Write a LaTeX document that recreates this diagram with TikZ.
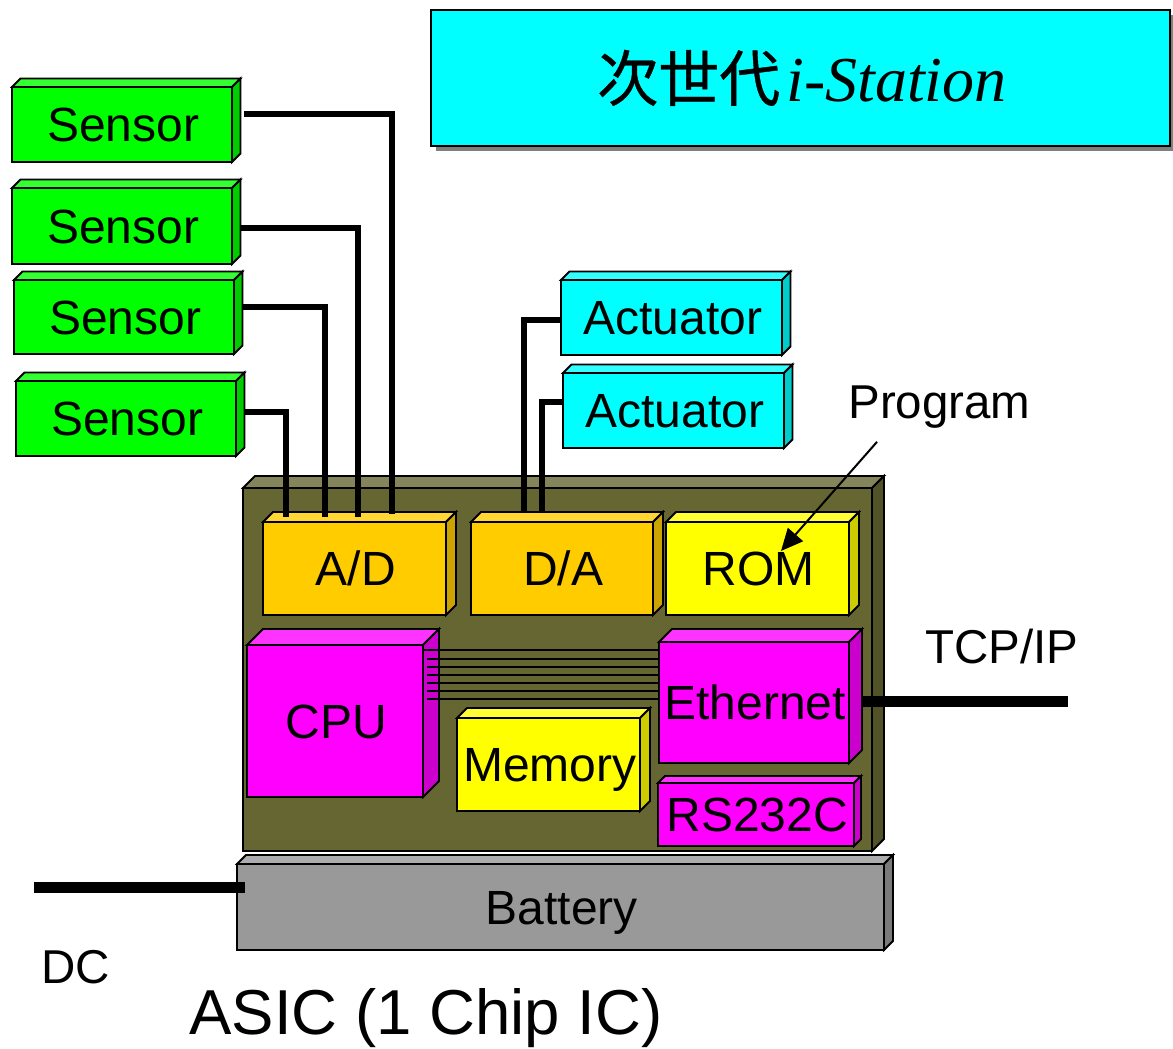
\documentclass[tikz,border=0pt]{standalone}
\usepackage{fontspec}
\setmainfont{Liberation Sans}
\newfontfamily\cjkfont[FakeBold=0.6]{Noto Sans CJK JP}
\newfontfamily\romanfont{Liberation Serif}
\usepackage{tikz}
\usetikzlibrary{arrows.meta,shadows}

\definecolor{baseolive}{HTML}{666633}
\definecolor{chiporange}{HTML}{FFCC00}
\definecolor{batterygray}{HTML}{999999}
\definecolor{chipgreen}{HTML}{00FF00}
\definecolor{chipcyan}{HTML}{00FFFF}
\definecolor{chipyellow}{HTML}{FFFF00}
\definecolor{chipmagenta}{HTML}{FF00FF}
\definecolor{shadowgray}{HTML}{808080}

\tikzset{
  chipline/.style={draw=black,line width=1.8pt},
  chipface/.style={chipline,anchor=north west,inner sep=0pt,outer sep=0pt,align=center,
    text height=34pt,text depth=0pt,font=\fontsize{48pt}{50pt}\selectfont},
  wire/.style={line width=6pt},
  thickwire/.style={line width=11pt},
  busline/.style={line width=1.6pt},
  pointer/.style={line width=2pt,-{Triangle[length=22pt,width=20pt]}},
  plainlabel/.style={anchor=base,inner sep=0pt,outer sep=0pt,font=\fontsize{47.5pt}{50pt}\selectfont},
}

% name, x, y, width, height, depth, colour, text
\newcommand{\solidchip}[8]{
  \draw[chipline,fill=#7!80!white] (#2,#3) -- ++(#6,-#6) -- ++(#4,0) -- ++(-#6,#6) -- cycle;
  \draw[chipline,fill=#7!80!black] ({#2+#4},#3) -- ++(#6,-#6) -- ++(0,#5) -- ++(-#6,#6) -- cycle;
  \node[chipface,fill=#7,minimum width=#4pt,minimum height=#5pt] (#1) at (#2,#3) {\hspace*{2.5pt}#8};
}

\begin{document}
\begin{tikzpicture}[x=1pt,y=-1pt]
      \useasboundingbox (0,0) rectangle (1173,1049);

      \node[chipline,fill=chipcyan,anchor=north west,inner sep=0pt,outer sep=0pt,minimum width=739pt,minimum height=136pt,
        text height=46pt,text depth=0pt,
        drop shadow={shadow xshift=5pt,shadow yshift=-5pt,opacity=1,fill=shadowgray}] (title) at (431,10)
        {\hspace*{3pt}{\fontsize{61pt}{64pt}\selectfont\cjkfont 次世代}\hspace{6pt}\romanfont\itshape\fontsize{64pt}{66pt}\selectfont i-Station};

      \solidchip{sensora}{12}{87}{220}{75}{8.5}{chipgreen}{Sensor}
      \solidchip{sensorb}{12}{188}{220}{76}{8.5}{chipgreen}{Sensor}
      \solidchip{sensorc}{14}{280}{220}{74}{8.5}{chipgreen}{Sensor}
      \solidchip{sensord}{16}{381}{220}{75}{8.5}{chipgreen}{Sensor}
      \solidchip{actuatora}{561}{280}{221}{75}{8.5}{chipcyan}{Actuator}
      \solidchip{actuatorb}{563}{373}{221}{75}{8.5}{chipcyan}{Actuator}

      \solidchip{base}{243}{488}{629}{363}{12}{baseolive}{}
      \solidchip{battery}{237}{864}{647}{86}{9}{batterygray}{Battery}
      \solidchip{ad}{263}{522}{183}{93}{10}{chiporange}{A/D}
      \solidchip{da}{471}{522}{182}{93}{10}{chiporange}{D/A}
      \solidchip{rom}{666}{522}{183}{93}{10}{chipyellow}{ROM}
      \solidchip{cpu}{247}{645}{176}{152}{16}{chipmagenta}{CPU}
      \solidchip{memory}{457}{718}{183}{93}{10}{chipyellow}{Memory}
      \solidchip{ethernet}{659}{642}{190}{121}{13}{chipmagenta}{Ethernet}
      \solidchip{rsport}{658}{783}{196}{63}{7}{chipmagenta}{RS232C}

      \foreach \ypos in {659,667,675,683,691,699}
        \draw[busline] ([xshift=4pt]cpu.east |- 0,\ypos) -- (ethernet.west |- 0,\ypos);
      \draw[busline] ([xshift=1pt]cpu.east |- 0,650) -- (ethernet.west |- 0,650);

      \draw[wire] ([xshift=12pt,yshift=10.5pt]sensora.east) -| ([xshift=37.5pt,yshift=8pt]ad.north);
      \draw[wire] ([xshift=9pt,yshift=-2pt]sensorb.east) -| ([xshift=3.5pt,yshift=5pt]ad.north);
      \draw[wire] ([xshift=9pt,yshift=10pt]sensorc.east) -| ([xshift=-29.5pt,yshift=5pt]ad.north);
      \draw[wire] ([xshift=9pt,yshift=6.5pt]sensord.east) -| ([xshift=-68.5pt,yshift=5pt]ad.north);
      \draw[wire] ([yshift=-2.5pt]actuatora.west) -| ([xshift=-38pt,yshift=10pt]da.north);
      \draw[wire] ([yshift=8.5pt]actuatorb.west) -| ([xshift=-20pt,yshift=9pt]da.north);

      \node[plainlabel] (program) at (939.5,418) {Program};
      \node[plainlabel] (tcpip) at (1002,663) {TCP/IP};
      \node[plainlabel] (dc) at (76,983) {DC};
      \node[plainlabel,font=\fontsize{63.5pt}{66pt}\selectfont] (asic) at (426,1034) {ASIC (1 Chip IC)};

      \coordinate (tcpend) at (1068,701);
      \coordinate (dcend) at (34,887);
      \draw[thickwire] ([xshift=13pt,yshift=1.5pt]ethernet.east) -- (tcpend);
      \draw[thickwire] (dcend) -- ([xshift=8pt,yshift=20pt]battery.west);
      \draw[pointer] ([xshift=-62.5pt,yshift=-14pt]program.south) -- ([xshift=23.5pt,yshift=17.5pt]rom.center);
\end{tikzpicture}
\end{document}
